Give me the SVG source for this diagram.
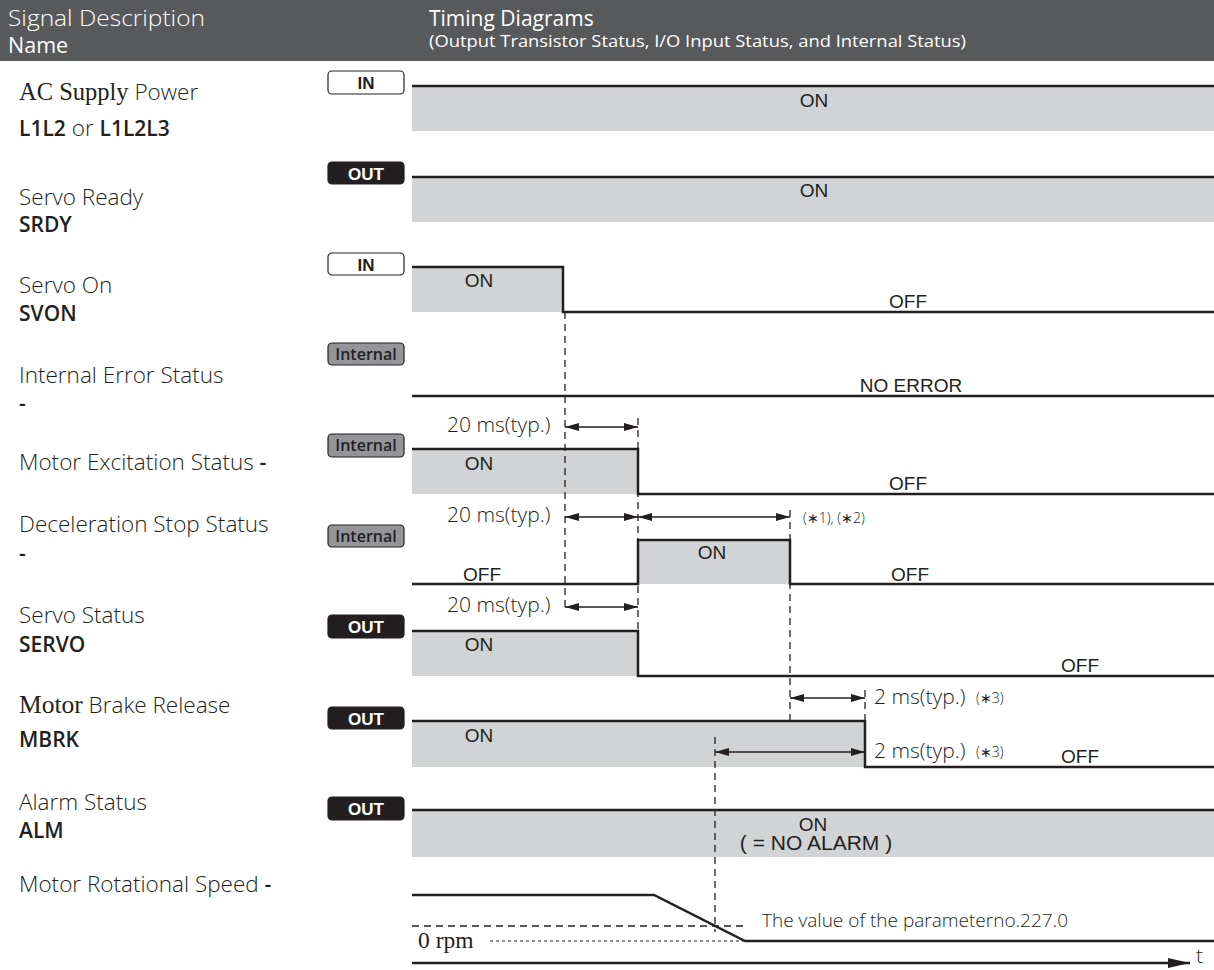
<svg xmlns="http://www.w3.org/2000/svg" width="1214" height="970" viewBox="0 0 1214 970">
<defs>
<marker id="ah" viewBox="0 0 14 8" refX="14" refY="4" markerWidth="14" markerHeight="8" markerUnits="userSpaceOnUse" orient="auto-start-reverse">
<path d="M0,0 L14,4 L0,8 Z" fill="#231f20"/>
</marker>
<marker id="ahBig" viewBox="0 0 22 10" refX="22" refY="5" markerWidth="22" markerHeight="10" markerUnits="userSpaceOnUse" orient="auto">
<path d="M0,0 L22,5 L0,10 Z" fill="#231f20"/>
</marker>
</defs>
<style>
.hdr{fill:#58595b}
.ht{font-family:"Open Sans","Liberation Sans",sans-serif;fill:#ffffff}
.lbl{font-family:"Open Sans","Liberation Sans",sans-serif;font-weight:300;font-size:22.5px;fill:#231f20}
.code{font-family:"Open Sans","Liberation Sans",sans-serif;font-weight:600;font-size:21px;fill:#231f20}
.ser{font-family:"Liberation Serif",serif;font-weight:400}
.st{font-family:"Liberation Sans",sans-serif;font-size:19px;fill:#231f20}
.dim{font-family:"Open Sans","Liberation Sans",sans-serif;font-weight:300;font-size:21px;fill:#231f20}
.note{font-family:"Open Sans","Liberation Sans",sans-serif;font-weight:300;font-size:14px;fill:#231f20}
.fill{fill:#d1d3d4}
.wave{fill:none;stroke:#231f20;stroke-width:2.5}
.dash{fill:none;stroke:#231f20;stroke-width:1.3;stroke-dasharray:7 5}
.dot{fill:none;stroke:#231f20;stroke-width:1.2;stroke-dasharray:3 3}
.arr{fill:none;stroke:#231f20;stroke-width:1.4;marker-start:url(#ah);marker-end:url(#ah)}
.bIn{fill:#ffffff;stroke:#231f20;stroke-width:1.2}
.bOut{fill:#231f20;stroke:#231f20;stroke-width:1.2}
.bInt{fill:#939598;stroke:#231f20;stroke-width:1.2}
.bt{font-family:"Liberation Sans",sans-serif;font-weight:700;font-size:17px;text-anchor:middle}
.bti{font-family:"Open Sans","Liberation Sans",sans-serif;font-weight:600;font-size:16px;text-anchor:middle;fill:#231f20}
</style>

<g id="header">
<rect class="hdr" x="0" y="0" width="1214" height="61"/>
<text class="ht" x="8" y="26" font-size="21.5" font-weight="300" textLength="197" lengthAdjust="spacingAndGlyphs">Signal Description</text>
<text class="ht" x="8" y="53" font-size="21.5" font-weight="400">Name</text>
<text class="ht" x="429" y="26" font-size="21" font-weight="400">Timing Diagrams</text>
<text class="ht" x="429" y="47" font-size="16" font-weight="400" textLength="537" lengthAdjust="spacingAndGlyphs">(Output Transistor Status, I/O Input Status, and Internal Status)</text>
</g>

<g id="row-ac-supply">
<text class="lbl" x="19" y="100"><tspan class="ser" font-size="24.5">AC Supply</tspan> Power</text>
<text class="lbl" x="19" y="136"><tspan class="code">L1L2</tspan> or <tspan class="code">L1L2L3</tspan></text>
<rect class="bIn" x="328" y="71" width="76" height="23" rx="4"/>
<text class="bt" x="366" y="89" fill="#231f20">IN</text>
<rect class="fill" x="412" y="86" width="802" height="45"/>
<path class="wave" d="M412,86 H1214"/>
<text class="st" x="814" y="107" text-anchor="middle">ON</text>
</g>

<g id="row-servo-ready">
<text class="lbl" x="19" y="205">Servo Ready</text>
<text class="code" x="19" y="232">SRDY</text>
<rect class="bOut" x="328" y="162" width="76" height="22" rx="4"/>
<text class="bt" x="366" y="180" fill="#ffffff">OUT</text>
<rect class="fill" x="412" y="177" width="802" height="45"/>
<path class="wave" d="M412,177 H1214"/>
<text class="st" x="814" y="197" text-anchor="middle">ON</text>
</g>

<g id="row-servo-on">
<text class="lbl" x="19" y="293">Servo On</text>
<text class="code" x="19" y="321">SVON</text>
<rect class="bIn" x="328" y="253" width="76" height="22" rx="4"/>
<text class="bt" x="366" y="271" fill="#231f20">IN</text>
<rect class="fill" x="412" y="267" width="151" height="45"/>
<path class="wave" d="M412,267 H563 V312 H1214"/>
<text class="st" x="479" y="287" text-anchor="middle">ON</text>
<text class="st" x="908" y="308" text-anchor="middle">OFF</text>
</g>

<g id="row-internal-error">
<text class="lbl" x="19" y="383">Internal Error Status</text>
<text class="code" x="19" y="411">-</text>
<rect class="bInt" x="328" y="343" width="76" height="22" rx="4"/>
<text class="bti" x="366" y="360">Internal</text>
<path class="wave" d="M412,396 H1214"/>
<text class="st" x="911" y="392" text-anchor="middle">NO ERROR</text>
</g>

<g id="row-motor-excitation">
<text class="lbl" x="19" y="470">Motor Excitation Status <tspan class="code">-</tspan></text>
<rect class="bInt" x="328" y="434" width="76" height="23" rx="4"/>
<text class="bti" x="366" y="451">Internal</text>
<rect class="fill" x="412" y="449" width="226" height="45"/>
<path class="wave" d="M412,449 H638 V494 H1214"/>
<text class="st" x="479" y="470" text-anchor="middle">ON</text>
<text class="st" x="908" y="490" text-anchor="middle">OFF</text>
<text class="dim" x="447" y="432">20 ms(typ.)</text>
</g>

<g id="row-deceleration-stop">
<text class="lbl" x="19" y="532">Deceleration Stop Status</text>
<text class="code" x="19" y="561">-</text>
<rect class="bInt" x="328" y="525" width="76" height="22" rx="4"/>
<text class="bti" x="366" y="542">Internal</text>
<rect class="fill" x="638" y="540" width="152" height="44"/>
<path class="wave" d="M412,584 H638 V540 H790 V584 H1214"/>
<text class="st" x="712" y="559" text-anchor="middle">ON</text>
<text class="st" x="482" y="581" text-anchor="middle">OFF</text>
<text class="st" x="910" y="581" text-anchor="middle">OFF</text>
<text class="dim" x="447" y="522">20 ms(typ.)</text>
<text class="note" x="803" y="523">(∗1), (∗2)</text>
</g>

<g id="row-servo-status">
<text class="lbl" x="19" y="623">Servo Status</text>
<text class="code" x="19" y="652">SERVO</text>
<rect class="bOut" x="328" y="615" width="76" height="23" rx="4"/>
<text class="bt" x="366" y="633" fill="#ffffff">OUT</text>
<rect class="fill" x="412" y="631" width="226" height="45"/>
<path class="wave" d="M412,631 H638 V676 H1214"/>
<text class="st" x="479" y="651" text-anchor="middle">ON</text>
<text class="st" x="1080" y="672" text-anchor="middle">OFF</text>
<text class="dim" x="447" y="612">20 ms(typ.)</text>
</g>

<g id="row-motor-brake">
<text class="lbl" x="19" y="713"><tspan class="ser" font-size="25.5">Motor</tspan> Brake Release</text>
<text class="code" x="19" y="747">MBRK</text>
<rect class="bOut" x="328" y="707" width="76" height="22" rx="4"/>
<text class="bt" x="366" y="725" fill="#ffffff">OUT</text>
<rect class="fill" x="412" y="721" width="453" height="46"/>
<path class="wave" d="M412,721 H865 V767 H1214"/>
<text class="st" x="479" y="742" text-anchor="middle">ON</text>
<text class="st" x="1080" y="763" text-anchor="middle">OFF</text>
<text class="dim" x="874" y="704">2 ms(typ.)</text>
<text class="note" x="976" y="703">(∗3)</text>
<text class="dim" x="874" y="758">2 ms(typ.)</text>
<text class="note" x="976" y="757">(∗3)</text>
</g>

<g id="row-alarm">
<text class="lbl" x="19" y="810">Alarm Status</text>
<text class="code" x="19" y="838">ALM</text>
<rect class="bOut" x="328" y="797" width="76" height="23" rx="4"/>
<text class="bt" x="366" y="815" fill="#ffffff">OUT</text>
<rect class="fill" x="412" y="810" width="802" height="47"/>
<path class="wave" d="M412,810 H1214"/>
<text class="st" x="813" y="831" text-anchor="middle">ON</text>
<text class="st" x="816" y="850" text-anchor="middle" style="font-size:21px">( = NO ALARM )</text>
</g>

<g id="row-motor-speed">
<text class="lbl" x="19" y="892">Motor Rotational Speed <tspan class="code">-</tspan></text>
<path class="dash" d="M412,926 H745"/>
<path class="dot" d="M490,941 H745"/>
<path class="wave" d="M412,895 H654 L745,941 H1214"/>
<text class="dim" x="762" y="927" style="font-size:19px">The value of the parameterno.227.0</text>
<text class="ser" x="418" y="948" font-size="23.5" fill="#231f20">0 rpm</text>
</g>

<g id="time-axis">
<path d="M412,963 H1190" stroke="#231f20" stroke-width="2.5" fill="none" marker-end="url(#ahBig)"/>
<text x="1196" y="963" font-family="Open Sans, sans-serif" font-weight="300" font-size="21" fill="#231f20">t</text>
</g>

<g id="connectors">
<path class="dash" d="M565,312 V612"/>
<path class="dash" d="M638,418 V631"/>
<path class="dash" d="M790,510 V721"/>
<path class="dash" d="M865,690 V721"/>
<path class="dash" d="M715,737 V932"/>
<path class="arr" d="M565,427 H638"/>
<path class="arr" d="M565,517 H638"/>
<path class="arr" d="M638,517 H790"/>
<path class="arr" d="M565,607 H638"/>
<path class="arr" d="M790,698 H865"/>
<path class="arr" d="M715,752 H865"/>
</g>
</svg>
